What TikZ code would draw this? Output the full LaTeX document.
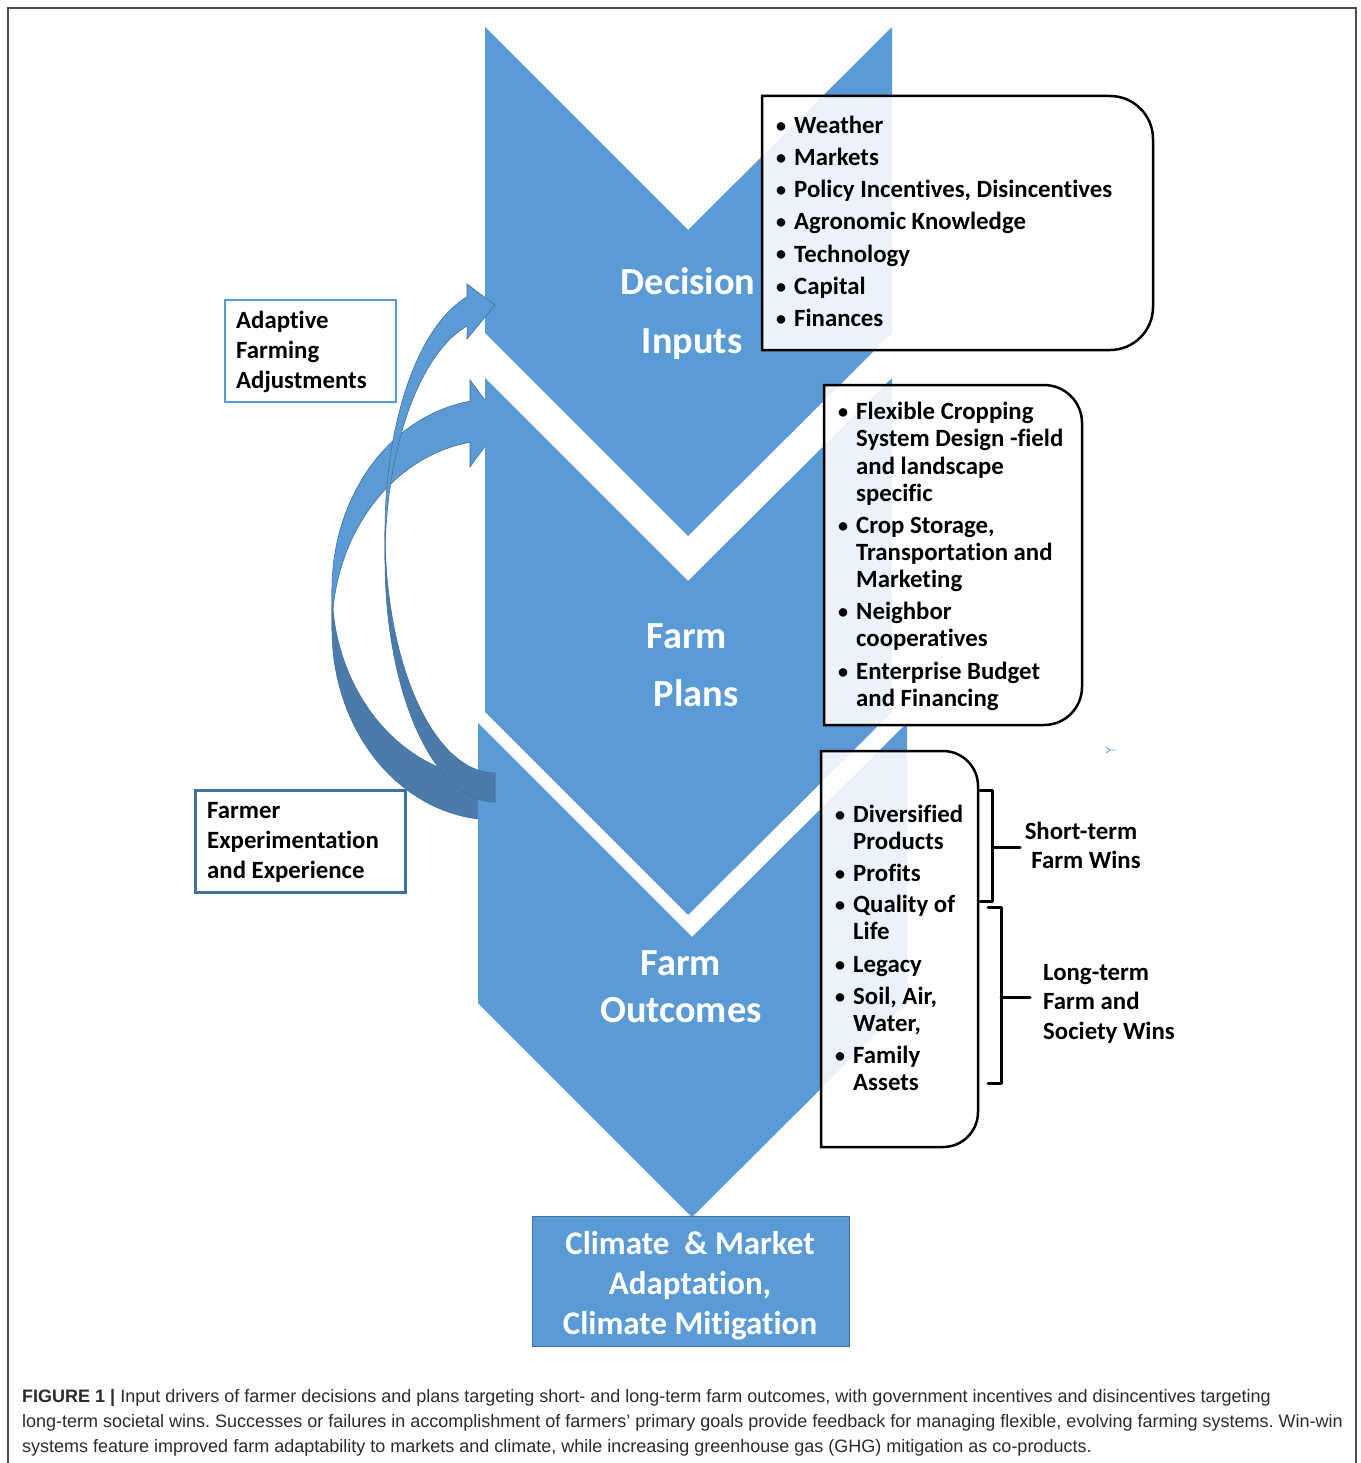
\documentclass[tikz,border=0pt]{standalone}
\usepackage{fontspec}
\setmainfont{Carlito}[Ligatures=NoCommon]
\newfontfamily\capfont{Liberation Sans}
\definecolor{cblue}{HTML}{5B9BD5}
\definecolor{dblue}{HTML}{41719C}
\definecolor{ablue}{HTML}{4A7BAB}
\definecolor{capgray}{HTML}{2B2B2B}
\frenchspacing
\begin{document}
\begin{tikzpicture}[x=1pt,y=-1pt,
  lbl/.style={font=\fontsize{24.8}{28}\selectfont\bfseries, anchor=base west, inner sep=0pt},
  bul/.style={font=\fontsize{20}{24}\selectfont\bfseries, anchor=base, inner sep=0pt, yshift=1pt},
  midlbl/.style={font=\fontsize{24.8}{28}\selectfont\bfseries, anchor=base, inner sep=0pt},
  chev/.style={font=\fontsize{38.3}{44}\selectfont\bfseries, text=white, anchor=base, inner sep=0pt},
  outtxt/.style={font=\fontsize{33}{38}\selectfont\bfseries, text=white, anchor=base, inner sep=0pt},
  captxt/.style={font=\capfont\fontsize{18}{21}\selectfont, text=capgray, anchor=base west, inner sep=0pt},
  wbox/.style={draw=black, line width=2.5, fill=white, fill opacity=0.88},
  arrlight/.style={fill=cblue, draw=dblue, line width=0.6},
  arrdark/.style={fill=ablue, draw=dblue, line width=0.6},
  brk/.style={line width=3, line cap=round, line join=round}
]
\useasboundingbox (0,0) rectangle (1360,1463);
\fill[white] (0,0) rectangle (1360,1463);
% frame
\draw[line width=1.5, draw=black!70] (8,1463) -- (8,8) -- (1356,8) -- (1356,1463);

% Arrow B (behind chevrons)
\path[arrdark] plot[domain=180:90, samples=40, variable=\t] ({495+163*cos(\t)},{589+190*sin(\t)})
  -- plot[domain=90:180, samples=40, variable=\t] ({495+163*cos(\t)},{630+190*sin(\t)}) -- cycle;
\path[arrlight] (470,401) -- plot[domain=261.18:180, samples=40, variable=\t] ({495+163*cos(\t)},{589+190*sin(\t)})
  -- plot[domain=180:261.18, samples=40, variable=\t] ({495+163*cos(\t)},{630+190*sin(\t)})
  -- (470,467) -- (502,423) -- (470,380) -- cycle;

% chevrons
\fill[cblue] (485,27) -- (688,230) -- (892,27) -- (892,333) -- (688,536) -- (485,333) -- cycle;
\fill[cblue] (485,378) -- (688,581) -- (892,378) -- (892,712) -- (688,915) -- (485,712) -- cycle;
\fill[cblue] (478,723) -- (692,937) -- (907,723) -- (907,1003) -- (692,1217) -- (478,1003) -- cycle;

% Arrow A (in front)
\path[arrdark] plot[domain=180:90, samples=40, variable=\t] ({495+110*cos(\t)},{531+242*sin(\t)})
  -- plot[domain=90:180, samples=40, variable=\t] ({495+110*cos(\t)},{560+242*sin(\t)}) -- cycle;
\path[arrlight] (467,297) -- plot[domain=255.3:180, samples=40, variable=\t] ({495+110*cos(\t)},{531+242*sin(\t)})
  -- plot[domain=180:255.3, samples=40, variable=\t] ({495+110*cos(\t)},{560+242*sin(\t)})
  -- (467,339) -- (495,305) -- (467,284) -- cycle;

% chevron labels
\node[chev] (dec) at (688,294) {Decision};
\node[chev] (inp) at (692,353) {Inputs};
\node[chev] (fp1) at (687,648) {Farm};
\node[chev] (fp2) at (696,706) {Plans};
\node[chev] (fo1) at (681,975) {Farm};
\node[chev] (fo2) at (681,1022) {Outcomes};

% right boxes
\path[wbox] (762,96) -- (1110,96) arc[start angle=-90, end angle=0, radius=43] -- (1153,307)
  arc[start angle=0, end angle=90, radius=43] -- (762,350) -- cycle;
\path[wbox] (824,385) -- (1044,385) arc[start angle=-90, end angle=0, radius=38] -- (1082,687)
  arc[start angle=0, end angle=90, radius=38] -- (824,725) -- cycle;
\path[wbox] (821,751) -- (943,751) arc[start angle=-90, end angle=0, radius=35] -- (978,1112)
  arc[start angle=0, end angle=90, radius=35] -- (821,1147) -- cycle;

% top box text
\node[bul] (ib1) at (781,134) {\textbullet}; \node[lbl] (it1) at (794,134) {Weather};
\node[bul] (ib2) at (781,166) {\textbullet}; \node[lbl] (it2) at (794,166) {Markets};
\node[bul] (ib3) at (781,198) {\textbullet}; \node[lbl] (it3) at (794,198) {Policy Incentives, Disincentives};
\node[bul] (ib4) at (781,230) {\textbullet}; \node[lbl] (it4) at (794,230) {Agronomic Knowledge};
\node[bul] (ib5) at (781,262) {\textbullet}; \node[lbl] (it5) at (794,262) {Technology};
\node[bul] (ib6) at (781,294) {\textbullet}; \node[lbl] (it6) at (794,294) {Capital};
\node[bul] (ib7) at (781,326) {\textbullet}; \node[lbl] (it7) at (794,326) {Finances};

% farm plans box text
\node[bul] (pb1) at (843,419) {\textbullet};
\node[lbl] (pt1) at (856,419) {Flexible Cropping};
\node[lbl] (pt2) at (856,446) {System Design -field};
\node[lbl] (pt3) at (856,474) {and landscape};
\node[lbl] (pt4) at (856,501) {specific};
\node[bul] (pb2) at (843,533) {\textbullet};
\node[lbl] (pt5) at (856,533) {Crop Storage,};
\node[lbl] (pt6) at (856,560) {Transportation and};
\node[lbl] (pt7) at (856,587) {Marketing};
\node[bul] (pb3) at (843,619) {\textbullet};
\node[lbl] (pt8) at (856,619) {Neighbor};
\node[lbl] (pt9) at (856,646) {cooperatives};
\node[bul] (pb4) at (843,679) {\textbullet};
\node[lbl] (pt10) at (856,679) {Enterprise Budget};
\node[lbl] (pt11) at (856,706) {and Financing};

% outcomes box text
\node[bul] (ob1) at (840,822) {\textbullet};
\node[lbl] (ot1) at (853,822) {Diversified};
\node[lbl] (ot2) at (853,849) {Products};
\node[bul] (ob2) at (840,881) {\textbullet};
\node[lbl] (ot3) at (853,881) {Profits};
\node[bul] (ob3) at (840,912) {\textbullet};
\node[lbl] (ot4) at (853,912) {Quality of};
\node[lbl] (ot5) at (853,939) {Life};
\node[bul] (ob4) at (840,972) {\textbullet};
\node[lbl] (ot6) at (853,972) {Legacy};
\node[bul] (ob5) at (840,1004) {\textbullet};
\node[lbl] (ot7) at (853,1004) {Soil, Air,};
\node[lbl] (ot8) at (853,1031) {Water,};
\node[bul] (ob6) at (840,1063) {\textbullet};
\node[lbl] (ot9) at (853,1063) {Family};
\node[lbl] (ot10) at (853,1090) {Assets};

% brackets
\draw[brk] (980,790) -- (992,790) -- (992,901) -- (980,901);
\draw[brk] (992,847) -- (1020,847);
\draw[brk] (988,907) -- (1001,907) -- (1001,1083) -- (988,1083);
\draw[brk] (1001,997) -- (1030,997);
\node[midlbl] (st1) at (1081,839) {Short-term};
\node[midlbl] (st2) at (1086,868) {Farm Wins};
\node[lbl] (lt1) at (1043,980) {Long-term};
\node[lbl] (lt2) at (1043,1009) {Farm and};
\node[lbl] (lt3) at (1043,1039) {Society Wins};

% tiny mark
\draw[cblue, line width=0.7] (1106,747) -- (1110,750) -- (1106,753) (1110,750) -- (1115,750);

% left boxes
\draw[cblue, line width=2.5] (225,300) rectangle (396,402);
\node[lbl] (ad1) at (236,328) {Adaptive};
\node[lbl] (ad2) at (236,358) {Farming};
\node[lbl] (ad3) at (236,388) {Adjustments};
\draw[dblue, line width=3] (195,790) rectangle (405,892);
\node[lbl] (fe1) at (207,818) {Farmer};
\node[lbl] (fe2) at (207,848) {Experimentation};
\node[lbl] (fe3) at (207,878) {and Experience};

% bottom box
\draw[fill=cblue, draw=dblue, line width=1] (532,1216) rectangle (849,1346);
\node[outtxt] (cm1) at (690,1254) {Climate\ \ \& Market};
\node[outtxt] (cm2) at (690,1294) {Adaptation,};
\node[outtxt] (cm3) at (690,1334) {Climate Mitigation};

% caption
\node[captxt] (c1) at (22,1402) {\textbf{FIGURE 1 |} Input drivers of farmer decisions and plans targeting short- and long-term farm outcomes, with government incentives and disincentives targeting};
\node[captxt] (c2) at (22,1427) {long-term societal wins. Successes or failures in accomplishment of farmers’ primary goals provide feedback for managing flexible, evolving farming systems. Win-win};
\node[captxt] (c3) at (22,1452) {systems feature improved farm adaptability to markets and climate, while increasing greenhouse gas (GHG) mitigation as co-products.};
\end{tikzpicture}
\end{document}
